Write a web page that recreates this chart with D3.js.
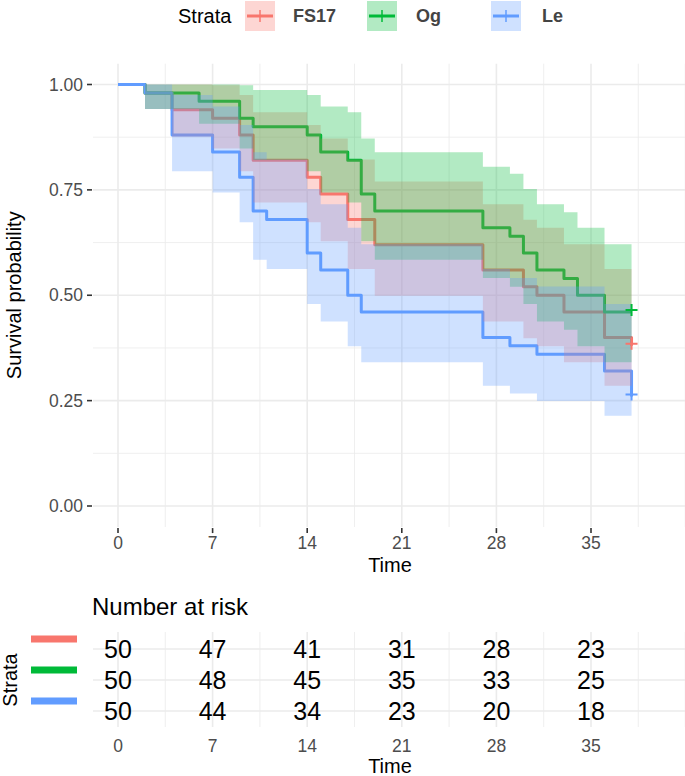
<!DOCTYPE html>
<html><head><meta charset="utf-8">
<script src="https://cdn.jsdelivr.net/npm/d3@7/dist/d3.min.js"></script>
<style>
body{margin:0;background:#fff;}
text{font-family:"Liberation Sans",Arial,Helvetica,sans-serif;}
</style>
</head><body>
<svg id="chart" width="685" height="776"></svg>
<script>
// ---------------- data ----------------
const strataNames = ["FS17", "Og", "Le"];

const fs17Time  = [0, 2, 4, 7, 9, 10, 14, 15, 17, 19, 27, 30, 31, 33, 36, 38];
const fs17Surv  = [1, 0.98, 0.94, 0.92, 0.88, 0.82, 0.78, 0.74, 0.68, 0.62, 0.56, 0.52, 0.50, 0.46, 0.40, 0.38];
const fs17Upper = [1, 1, 1, 0.998, 0.975, 0.934, 0.904, 0.872, 0.822, 0.770, 0.716, 0.679, 0.660, 0.621, 0.562, 0.541];
const fs17Lower = [1, 0.942, 0.876, 0.848, 0.794, 0.720, 0.673, 0.628, 0.562, 0.499, 0.438, 0.398, 0.379, 0.341, 0.285, 0.267];

const ogTime  = [0, 2, 6, 9, 10, 14, 15, 17, 18, 19, 27, 29, 30, 31, 33, 34, 36, 38];
const ogSurv  = [1, 0.98, 0.96, 0.92, 0.90, 0.88, 0.84, 0.82, 0.74, 0.70, 0.66, 0.64, 0.60, 0.56, 0.54, 0.50, 0.46, 0.46];
const ogUpper = [1, 1, 1, 0.998, 0.987, 0.975, 0.948, 0.934, 0.872, 0.839, 0.805, 0.788, 0.752, 0.716, 0.697, 0.660, 0.621, 0.621];
const ogLower = [1, 0.942, 0.907, 0.848, 0.821, 0.794, 0.744, 0.720, 0.628, 0.584, 0.541, 0.520, 0.479, 0.438, 0.418, 0.379, 0.341, 0.341];

const leTime  = [0, 2, 4, 7, 9, 10, 11, 14, 15, 17, 18, 27, 29, 31, 36, 38];
const leSurv  = [1, 0.98, 0.88, 0.84, 0.78, 0.70, 0.68, 0.60, 0.56, 0.50, 0.46, 0.40, 0.38, 0.36, 0.32, 0.26];
const leUpper = [1, 1, 0.975, 0.948, 0.904, 0.839, 0.822, 0.752, 0.716, 0.660, 0.621, 0.562, 0.541, 0.521, 0.479, 0.415];
const leLower = [1, 0.942, 0.794, 0.744, 0.673, 0.584, 0.562, 0.479, 0.438, 0.379, 0.341, 0.285, 0.267, 0.249, 0.214, 0.163];

const censorTime = [38, 38, 38];

const riskTimes = [0, 7, 14, 21, 28, 35];
const riskFS17 = [50, 47, 41, 31, 28, 23];
const riskOg   = [50, 48, 45, 35, 33, 25];
const riskLe   = [50, 44, 34, 23, 20, 18];

const xTickLabels = ["0", "7", "14", "21", "28", "35"];
const yTickValues = [0, 0.25, 0.5, 0.75, 1];
const yTickLabels = ["0.00", "0.25", "0.50", "0.75", "1.00"];

// ---------------- build ----------------
const colors = ["#F8766D", "#00BA38", "#619CFF"];
const series = [
  {name: strataNames[0], t: fs17Time, s: fs17Surv, up: fs17Upper, lo: fs17Lower, risk: riskFS17},
  {name: strataNames[1], t: ogTime, s: ogSurv, up: ogUpper, lo: ogLower, risk: riskOg},
  {name: strataNames[2], t: leTime, s: leSurv, up: leUpper, lo: leLower, risk: riskLe}
].map((d, i) => ({...d, color: colors[i], pts: d.t.map((t, j) => ({t, s: d.s[j], up: d.up[j], lo: d.lo[j]}))}));

const svg = d3.select("#chart");
svg.append("rect").attr("width", 685).attr("height", 776).attr("fill", "#fff");

const x = d3.scaleLinear().domain([0, 35]).range([118, 591]);
const y = d3.scaleLinear().domain([0, 1]).range([506, 84.5]);
const P = {x0: x(-1.85), x1: 690, y0: y(1.05), y1: y(-0.05)};

const defs = svg.append("defs");
defs.append("clipPath").attr("id", "pclip").append("rect")
  .attr("x", P.x0).attr("y", P.y0).attr("width", P.x1 - P.x0).attr("height", P.y1 - P.y0);

const majorX = d3.range(0, 43, 7);
const minorX = d3.range(3.5, 43, 7);
const gridCol = "#EBEBEB";

// main grid
const g = svg.append("g");
const grid = g.append("g").attr("clip-path", "url(#pclip)");
grid.selectAll(".mnx").data(minorX).join("line")
  .attr("x1", d => x(d)).attr("x2", d => x(d)).attr("y1", P.y0).attr("y2", P.y1)
  .attr("stroke", gridCol).attr("stroke-width", 0.8);
grid.selectAll(".mny").data([0.125, 0.375, 0.625, 0.875]).join("line")
  .attr("x1", P.x0).attr("x2", P.x1).attr("y1", d => y(d)).attr("y2", d => y(d))
  .attr("stroke", gridCol).attr("stroke-width", 0.8);
grid.selectAll(".mjx").data(majorX).join("line")
  .attr("x1", d => x(d)).attr("x2", d => x(d)).attr("y1", P.y0).attr("y2", P.y1)
  .attr("stroke", gridCol).attr("stroke-width", 1.6);
grid.selectAll(".mjy").data(yTickValues).join("line")
  .attr("x1", P.x0).attr("x2", P.x1).attr("y1", d => y(d)).attr("y2", d => y(d))
  .attr("stroke", gridCol).attr("stroke-width", 1.6);

// lines
const line = d3.line().x(d => x(d.t)).y(d => y(d.s)).curve(d3.curveStepAfter);
const area = d3.area().x(d => x(d.t)).y0(d => y(d.lo)).y1(d => y(d.up)).curve(d3.curveStepAfter);
const plot = g.append("g").attr("clip-path", "url(#pclip)");
series.forEach(sr => {
  plot.append("path").attr("d", line(sr.pts)).attr("fill", "none")
    .attr("stroke", sr.color).attr("stroke-width", 3).attr("stroke-linejoin", "round");
});
series.forEach(sr => {
  plot.append("path").attr("d", area(sr.pts)).attr("fill", sr.color).attr("fill-opacity", 0.3).attr("stroke", "none");
});
// censor marks
series.forEach((sr, i) => {
  const last = sr.pts[sr.pts.length - 1];
  const cx = x(censorTime[i]), cy = y(last.s) - 2;
  plot.append("path").attr("d", `M${cx-6},${cy}H${cx+6}M${cx},${cy-6}V${cy+6}`)
    .attr("stroke", sr.color).attr("stroke-width", 2).attr("fill", "none");
});

// axes
const tickCol = "#333";
const labCol = "#4D4D4D";
g.selectAll(".ytk").data(yTickValues).join("line")
  .attr("x1", P.x0 - 6).attr("x2", P.x0 - 1).attr("y1", d => y(d)).attr("y2", d => y(d))
  .attr("stroke", tickCol).attr("stroke-width", 1.6);
g.selectAll(".ytl").data(yTickValues).join("text")
  .attr("x", P.x0 - 10).attr("y", d => y(d)).attr("dy", "0.35em").attr("text-anchor", "end")
  .attr("font-size", 17.5).attr("fill", labCol).text((d, i) => yTickLabels[i]);
g.selectAll(".xtk").data(riskTimes).join("line")
  .attr("x1", d => x(d)).attr("x2", d => x(d)).attr("y1", P.y1 + 1).attr("y2", P.y1 + 6)
  .attr("stroke", tickCol).attr("stroke-width", 1.6);
g.selectAll(".xtl").data(riskTimes).join("text")
  .attr("x", d => x(d)).attr("y", 543).attr("dy", "0.35em").attr("text-anchor", "middle")
  .attr("font-size", 17.5).attr("fill", labCol).text((d, i) => xTickLabels[i]);
const pcx = (P.x0 + 687) / 2;
g.append("text").attr("x", pcx).attr("y", 565).attr("dy", "0.35em").attr("text-anchor", "middle")
  .attr("font-size", 20).attr("fill", "#000").text("Time");
g.append("text").attr("transform", `translate(14,${(P.y0 + P.y1) / 2}) rotate(-90)`)
  .attr("dy", "0.35em").attr("text-anchor", "middle")
  .attr("font-size", 20).attr("fill", "#000").text("Survival probability");

// legend
const lg = svg.append("g");
lg.append("text").attr("x", 178).attr("y", 16).attr("dy", "0.35em").attr("font-size", 20).attr("fill", "#000").text("Strata");
const keyX = [245, 367, 491];
const labX = [293, 416, 542];
series.forEach((sr, i) => {
  const kx = keyX[i];
  lg.append("rect").attr("x", kx).attr("y", 1).attr("width", 30).attr("height", 30)
    .attr("fill", sr.color).attr("fill-opacity", 0.3);
  lg.append("line").attr("x1", kx + 2).attr("x2", kx + 28).attr("y1", 16).attr("y2", 16)
    .attr("stroke", sr.color).attr("stroke-width", 3);
  lg.append("line").attr("x1", kx + 15).attr("x2", kx + 15).attr("y1", 10).attr("y2", 22)
    .attr("stroke", sr.color).attr("stroke-width", 1.5);
  lg.append("text").attr("x", labX[i]).attr("y", 16).attr("dy", "0.35em")
    .attr("font-size", 18).attr("font-weight", "bold").attr("fill", "#444").text(sr.name);
});

// risk table
const rt = svg.append("g");
const R = {y0: 632, y1: 727};
const rowY = d3.scalePoint().domain(strataNames).range([649, 711]);
defs.append("clipPath").attr("id", "rclip").append("rect")
  .attr("x", P.x0).attr("y", R.y0).attr("width", P.x1 - P.x0).attr("height", R.y1 - R.y0);
const rg = rt.append("g").attr("clip-path", "url(#rclip)");
rg.selectAll(".rmn").data(minorX).join("line")
  .attr("x1", d => x(d)).attr("x2", d => x(d)).attr("y1", R.y0).attr("y2", R.y1)
  .attr("stroke", gridCol).attr("stroke-width", 0.8);
rg.selectAll(".rmj").data(majorX).join("line")
  .attr("x1", d => x(d)).attr("x2", d => x(d)).attr("y1", R.y0).attr("y2", R.y1)
  .attr("stroke", gridCol).attr("stroke-width", 1.6);
rg.selectAll(".rh").data(strataNames).join("line")
  .attr("x1", P.x0).attr("x2", P.x1).attr("y1", d => rowY(d)).attr("y2", d => rowY(d))
  .attr("stroke", gridCol).attr("stroke-width", 1.6);
series.forEach(sr => {
  rt.selectAll(null).data(riskTimes).join("text")
    .attr("x", d => x(d)).attr("y", rowY(sr.name)).attr("dy", "0.36em").attr("text-anchor", "middle")
    .attr("font-size", 25).attr("fill", "#000").text((d, j) => sr.risk[j]);
  rt.append("rect").attr("x", 31).attr("y", rowY(sr.name) - 13.5).attr("width", 46).attr("height", 7)
    .attr("fill", sr.color);
});
rt.append("text").attr("x", 92).attr("y", 607).attr("dy", "0.35em").attr("font-size", 24).attr("fill", "#000").text("Number at risk");
rt.selectAll(".rtl").data(riskTimes).join("text")
  .attr("x", d => x(d)).attr("y", 746).attr("dy", "0.35em").attr("text-anchor", "middle")
  .attr("font-size", 17.5).attr("fill", labCol).text((d, i) => xTickLabels[i]);
rt.append("text").attr("x", pcx).attr("y", 766).attr("dy", "0.35em").attr("text-anchor", "middle")
  .attr("font-size", 20).attr("fill", "#000").text("Time");
rt.append("text").attr("transform", `translate(10,680) rotate(-90)`)
  .attr("dy", "0.35em").attr("text-anchor", "middle")
  .attr("font-size", 20).attr("fill", "#000").text("Strata");
</script>
</body></html>
